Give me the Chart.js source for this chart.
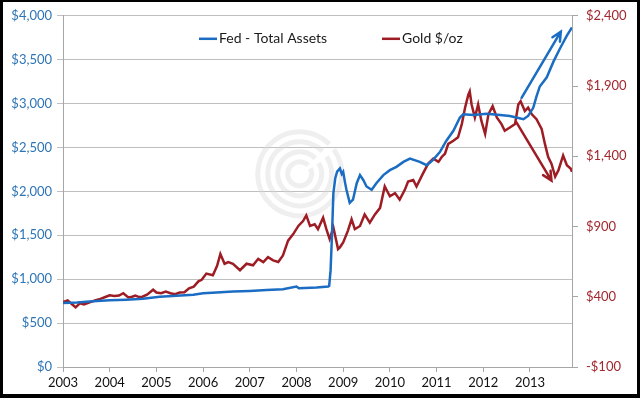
<!DOCTYPE html>
<html>
<head>
<meta charset="utf-8">
<script src="https://cdn.jsdelivr.net/npm/chart.js@4.4.0/dist/chart.umd.min.js"></script>
<style>
  html, body { margin: 0; padding: 0; background: #000; }
  #wrap { width: 640px; height: 398px; }
</style>
</head>
<body>
<div id="wrap"><canvas id="c" width="640" height="398"></canvas></div>
<script>
// ---- Data (decimal years) ----
const fedDates = [2003.0, 2003.3, 2003.64, 2004.0, 2004.36, 2004.71, 2005.07, 2005.43, 2005.79, 2006.0, 2006.29, 2006.64, 2007.0, 2007.36, 2007.71, 2008.0, 2008.05, 2008.43, 2008.68, 2008.70, 2008.73, 2008.76, 2008.79, 2008.83, 2008.87, 2008.93, 2008.97, 2009.0, 2009.04, 2009.07, 2009.14, 2009.21, 2009.29, 2009.36, 2009.43, 2009.5, 2009.61, 2009.71, 2009.86, 2010.0, 2010.14, 2010.29, 2010.43, 2010.64, 2010.79, 2010.93, 2011.07, 2011.21, 2011.36, 2011.5, 2011.57, 2011.79, 2012.07, 2012.36, 2012.57, 2012.71, 2012.86, 2012.96, 2013.07, 2013.14, 2013.21, 2013.36, 2013.5, 2013.64, 2013.79, 2013.9];
const fedValues = [729, 735, 748, 759, 767, 778, 800, 811, 823, 841, 849, 860, 867, 878, 886, 916, 897, 905, 916, 925, 1100, 1500, 1980, 2150, 2224, 2261, 2200, 2224, 2100, 2018, 1869, 1906, 2093, 2186, 2130, 2056, 2018, 2093, 2186, 2242, 2280, 2336, 2373, 2336, 2298, 2362, 2448, 2578, 2690, 2841, 2878, 2870, 2885, 2870, 2859, 2841, 2822, 2859, 2952, 3083, 3195, 3300, 3475, 3625, 3774, 3868];

const goldDates = [2003.0, 2003.1, 2003.18, 2003.27, 2003.36, 2003.45, 2003.57, 2003.7, 2003.8, 2003.92, 2004.0, 2004.1, 2004.2, 2004.29, 2004.4, 2004.48, 2004.55, 2004.63, 2004.7, 2004.8, 2004.93, 2005.0, 2005.1, 2005.2, 2005.3, 2005.4, 2005.5, 2005.6, 2005.7, 2005.8, 2005.9, 2005.97, 2006.07, 2006.21, 2006.3, 2006.37, 2006.46, 2006.54, 2006.64, 2006.79, 2006.93, 2007.07, 2007.18, 2007.29, 2007.39, 2007.5, 2007.61, 2007.71, 2007.82, 2007.93, 2008.04, 2008.14, 2008.21, 2008.29, 2008.39, 2008.46, 2008.57, 2008.64, 2008.71, 2008.79, 2008.86, 2008.89, 2008.93, 2009.0, 2009.1, 2009.18, 2009.25, 2009.36, 2009.46, 2009.57, 2009.68, 2009.79, 2009.89, 2010.0, 2010.11, 2010.21, 2010.32, 2010.39, 2010.5, 2010.57, 2010.71, 2010.82, 2010.93, 2011.04, 2011.11, 2011.18, 2011.25, 2011.36, 2011.46, 2011.54, 2011.61, 2011.68, 2011.71, 2011.75, 2011.82, 2011.89, 2011.96, 2012.04, 2012.11, 2012.2, 2012.29, 2012.39, 2012.46, 2012.57, 2012.68, 2012.75, 2012.8, 2012.89, 2012.96, 2013.04, 2013.14, 2013.25, 2013.32, 2013.39, 2013.46, 2013.54, 2013.61, 2013.71, 2013.79, 2013.87, 2013.9];
const goldValues = [362, 374, 350, 325, 353, 345, 360, 375, 385, 400, 410, 405, 409, 425, 395, 400, 409, 398, 400, 415, 450, 430, 425, 437, 425, 418, 430, 432, 460, 472, 510, 521, 565, 553, 620, 705, 635, 647, 635, 589, 635, 624, 670, 647, 682, 659, 647, 694, 799, 846, 904, 939, 979, 904, 916, 881, 963, 881, 811, 893, 787, 740, 752, 787, 869, 951, 881, 904, 986, 928, 986, 1033, 1185, 1115, 1138, 1091, 1161, 1220, 1231, 1185, 1278, 1348, 1383, 1360, 1395, 1418, 1488, 1511, 1535, 1629, 1746, 1839, 1862, 1769, 1676, 1769, 1652, 1559, 1699, 1757, 1676, 1629, 1582, 1605, 1629, 1769, 1792, 1722, 1746, 1699, 1664, 1594, 1488, 1395, 1348, 1255, 1301, 1406, 1336, 1313, 1290];

const yearTicks = [2003, 2004, 2005, 2006, 2007, 2008, 2009, 2010, 2011, 2012, 2013];
const fedArrow = [[2012.82, 3065], [2013.66, 3819]];   // left axis
const goldArrow = [[2012.71, 1641], [2013.46, 1227]];  // right axis

// ---- Styles ----
const BLUE = '#1a6dc3';
const BLUE_TXT = '#2e75b6';
const RED = '#9e1c24';
const RED_TXT = '#a3272e';
const GRID = '#bfbfbf';
const FONT = 'Lato, "Open Sans", sans-serif';

const frame = {
  id: 'frame',
  beforeDraw(chart) {
    const c = chart.ctx;
    c.save();
    c.fillStyle = '#000';
    c.fillRect(0, 0, chart.width, chart.height);
    c.fillStyle = '#fff';
    c.fillRect(3, 2, chart.width - 6, chart.height - 6);
    c.restore();
  },
  beforeDatasetsDraw(chart) {
    // faint watermark swirl
    const a = chart.chartArea, c = chart.ctx;
    const cx = a.left + (a.right - a.left) * 0.465, cy = a.top + (a.bottom - a.top) * 0.45;
    c.save();
    c.strokeStyle = 'rgba(215,215,215,0.4)';
    c.lineWidth = 5;
    [12, 22, 32, 42].forEach((r, i) => {
      c.beginPath();
      c.arc(cx, cy, r, -0.15 * Math.PI - i * 0.05, 1.75 * Math.PI);
      c.stroke();
    });
    c.restore();
  },
  afterDatasetsDraw(chart) {
    const c = chart.ctx, sx = chart.scales.x;
    function arrow(pts, ys, color) {
      const x0 = sx.getPixelForValue(pts[0][0]), y0 = ys.getPixelForValue(pts[0][1]);
      const x1 = sx.getPixelForValue(pts[1][0]), y1 = ys.getPixelForValue(pts[1][1]);
      const ang = Math.atan2(y1 - y0, x1 - x0), h = 10;
      c.save();
      c.strokeStyle = color; c.lineWidth = 2.5; c.lineCap = 'round';
      c.beginPath(); c.moveTo(x0, y0); c.lineTo(x1, y1);
      c.moveTo(x1 - h * Math.cos(ang - 0.45), y1 - h * Math.sin(ang - 0.45));
      c.lineTo(x1, y1);
      c.lineTo(x1 - h * Math.cos(ang + 0.45), y1 - h * Math.sin(ang + 0.45));
      c.stroke();
      c.restore();
    }
    arrow(fedArrow, chart.scales.y, BLUE);
    arrow(goldArrow, chart.scales.y1, RED);

    // legend
    const a = chart.chartArea;
    const ly = a.top + 23;
    const items = chart.data.datasets.map(d => ({ text: d.label, color: d.borderColor }));
    const starts = [a.left + 136, a.left + 319];
    c.save();
    c.font = '14px ' + FONT;
    c.textBaseline = 'middle';
    items.forEach((it, i) => {
      const x = starts[i];
      c.strokeStyle = it.color; c.lineWidth = 2.5;
      c.beginPath(); c.moveTo(x, ly); c.lineTo(x + 18, ly); c.stroke();
      c.fillStyle = '#1a1a1a';
      c.fillText(it.text, x + 20, ly);
    });
    c.restore();
  }
};

new Chart(document.getElementById('c'), {
  type: 'line',
  data: {
    datasets: [
      { label: 'Fed - Total Assets', data: fedDates.map((x, i) => ({ x, y: fedValues[i] })), yAxisID: 'y',
        borderColor: BLUE, backgroundColor: BLUE, borderWidth: 2.5, pointRadius: 0, tension: 0 },
      { label: 'Gold $/oz', data: goldDates.map((x, i) => ({ x, y: goldValues[i] })), yAxisID: 'y1',
        borderColor: RED, backgroundColor: RED, borderWidth: 2.5, pointRadius: 0, tension: 0 }
    ]
  },
  plugins: [frame],
  options: {
    responsive: false,
    animation: false,
    layout: { padding: { top: 10, left: 0, right: 0, bottom: 0 } },
    plugins: { legend: { display: false }, tooltip: { enabled: false } },
    scales: {
      x: {
        type: 'linear', min: 2003, max: 2013.9,
        afterBuildTicks: s => { s.ticks = yearTicks.map(v => ({ value: v })); },
        afterFit: s => { s.height = 31; },
        ticks: { callback: v => String(v), color: '#111', font: { family: FONT, size: 13 }, padding: 3, maxRotation: 0, autoSkip: false },
        grid: { drawOnChartArea: false, drawTicks: true, tickLength: 5, color: '#a6a6a6' },
        border: { color: '#a6a6a6' }
      },
      y: {
        position: 'left', min: 0, max: 4000,
        afterFit: s => { s.width = 63; },
        ticks: { stepSize: 500, callback: v => '$' + Number(v).toLocaleString('en-US'), color: BLUE_TXT, font: { family: FONT, size: 13 }, padding: 5 },
        grid: { color: GRID, tickLength: 6 },
        border: { color: '#a6a6a6' }
      },
      y1: {
        position: 'right', min: -100, max: 2400,
        afterFit: s => { s.width = 68; },
        ticks: { stepSize: 500, callback: v => (v < 0 ? '-$' + Math.abs(v) : '$' + Number(v).toLocaleString('en-US')), color: RED_TXT, font: { family: FONT, size: 13 }, padding: 8 },
        grid: { drawOnChartArea: false, color: '#a6a6a6', tickLength: 6 },
        border: { color: '#a6a6a6' }
      }
    }
  }
});
</script>
</body>
</html>
